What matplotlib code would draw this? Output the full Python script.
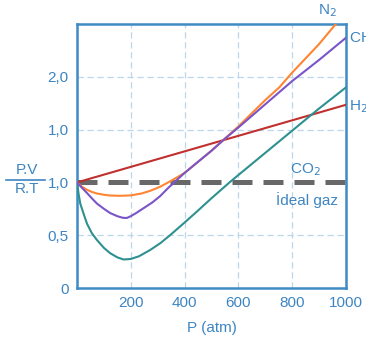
import matplotlib
matplotlib.use('Agg')
import matplotlib.pyplot as plt
from matplotlib.lines import Line2D

plt.rcParams['font.family'] = ['Liberation Sans', 'DejaVu Sans']

# Values (P in atm, PV/RT)
p_co2 = [0, 6, 12, 25, 37, 55, 74, 100, 123, 150, 173, 200, 230, 272, 310, 346, 400, 444,
         500, 567, 600, 700, 800, 900, 1000]
z_co2 = [1.0, 0.89, 0.80, 0.70, 0.61, 0.52, 0.455, 0.38, 0.33, 0.29, 0.27, 0.275, 0.30, 0.36, 0.425, 0.50, 0.62, 0.72,
         0.85, 1.0, 1.07, 1.28, 1.49, 1.70, 1.90]

p_n2 = [0, 18, 37, 55, 74, 100, 123, 160, 200, 240, 272, 310, 346, 370, 400,
        500, 548, 600, 700, 752, 800, 900, 962]
z_n2 = [1.0, 0.96, 0.93, 0.91, 0.895, 0.883, 0.876, 0.873, 0.877, 0.895, 0.92, 0.96, 1.01, 1.045, 1.09,
        1.30, 1.41, 1.53, 1.78, 1.90, 2.04, 2.31, 2.50]

p_ch4 = [0, 18, 37, 55, 74, 100, 123, 150, 170, 185, 200, 220, 247, 280, 309, 340, 370, 400,
         500, 548, 600, 700, 800, 900, 1000]
z_ch4 = [1.0, 0.95, 0.90, 0.85, 0.80, 0.75, 0.71, 0.68, 0.665, 0.663, 0.68, 0.71, 0.755, 0.81, 0.87, 0.95, 1.02, 1.09,
         1.30, 1.41, 1.52, 1.74, 1.96, 2.16, 2.37]

p_h2 = [0, 1000]
z_h2 = [1.0, 1.735]

p_ideal = [0, 1000]
z_ideal = [1.0, 1.0]

xticks = [200, 400, 600, 800, 1000]
yticks = [0, 0.5, 1.0, 1.5, 2.0]
ytick_labels = ['0', '0,5', '1,0', '1,0', '2,0']

blue = '#3d85c2'
fig = plt.figure(figsize=(3.66, 3.42), dpi=100)
ax = fig.add_axes([77/366, 54/342, 269/366, 264/342])

for x in [200, 400, 600, 800]:
    ax.axvline(x, color='#bcd6ea', lw=0.9, ls=(0, (5, 3)), zorder=0)
for y in [0.5, 1.5, 2.0]:
    ax.axhline(y, color='#bcd6ea', lw=0.9, ls=(0, (5, 3)), zorder=0)

ax.plot(p_ideal, z_ideal, color='#686868', lw=3.6, ls=(0, (4, 2.2)), zorder=2)
ax.plot(p_h2, z_h2, color='#c0302e', lw=1.5, zorder=3)
ax.plot(p_co2, z_co2, color='#2e9190', lw=1.5, zorder=3)
ax.plot(p_n2, z_n2, color='#ff8533', lw=1.5, zorder=3)
ax.plot(p_ch4, z_ch4, color='#7a55c8', lw=1.5, zorder=4)

ax.set_xlim(0, 1000)
ax.set_ylim(0, 2.5)
ax.set_xticks(xticks)
ax.set_yticks(yticks)
ax.set_yticklabels(ytick_labels)
ax.tick_params(length=0, colors=blue, labelsize=11, pad=6)
for s in ax.spines.values():
    s.set_color('#3f8cc4')
    s.set_linewidth(1.8)

ax.set_xlabel('P (atm)', color=blue, fontsize=11, labelpad=8)

kw = dict(color=blue, fontsize=11, clip_on=False)
ax.text(930, 2.55, 'N$_2$', ha='center', va='bottom', **kw)
ax.text(1010, 2.36, 'CH$_4$', ha='left', va='center', **kw)
ax.text(1010, 1.72, 'H$_2$', ha='left', va='center', **kw)
ax.text(850, 1.12, 'CO$_2$', ha='center', va='center', **kw)
ax.text(970, 0.83, 'İdeal gaz', ha='right', va='center', **kw)

fig.text(27/366, 1 - 170/342, 'P.V', color=blue, fontsize=11, ha='center', va='center')
fig.text(27/366, 1 - 189/342, 'R.T', color=blue, fontsize=11, ha='center', va='center')
fig.add_artist(Line2D([6/366, 45/366], [1 - 179.5/342, 1 - 179.5/342], color=blue, lw=1.2))

fig.savefig('out.png', dpi=100)
